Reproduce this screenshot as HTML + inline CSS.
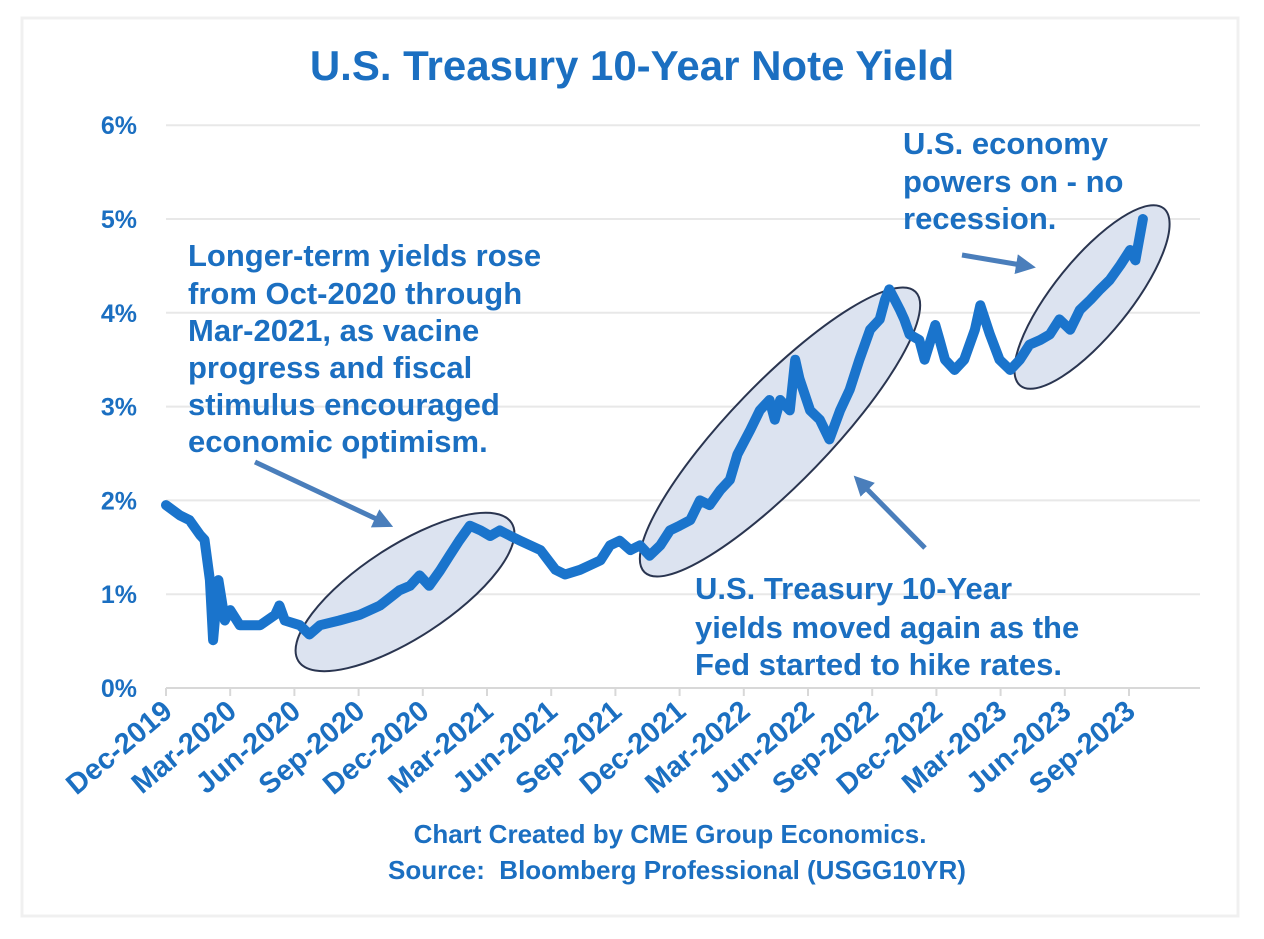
<!DOCTYPE html>
<html><head><meta charset="utf-8"><style>
html,body{margin:0;padding:0;background:#fff;}
body{width:1264px;height:934px;overflow:hidden;font-family:"Liberation Sans",Arial,sans-serif;}
</style></head><body>
<svg id="chart" width="1264" height="934" viewBox="0 0 1264 934" xmlns="http://www.w3.org/2000/svg" font-family="Liberation Sans, Arial, sans-serif">
<rect x="22" y="18" width="1216" height="898" fill="#fff" stroke="#f0f0f0" stroke-width="3"/>
<text x="632" y="80" text-anchor="middle" font-size="42" font-weight="bold" fill="#1b6fc1">U.S. Treasury 10-Year Note Yield</text>
<g id="grid"></g>
<g id="yticks"></g>
<g id="xticks"></g>
<g id="ellipses">
<ellipse cx="405" cy="592" rx="127" ry="46" transform="rotate(-33 405 592)" fill="#dce3f0" stroke="#2a3550" stroke-width="2"/>
<ellipse cx="780" cy="432" rx="195" ry="50" transform="rotate(-46 780 432)" fill="#dce3f0" stroke="#2a3550" stroke-width="2"/>
<ellipse cx="1092" cy="297" rx="114" ry="38" transform="rotate(-51 1092 297)" fill="#dce3f0" stroke="#2a3550" stroke-width="2"/>
</g>
<path id="line" fill="none" stroke="#1a74cc" stroke-width="10" stroke-linejoin="round" stroke-linecap="round"/>
<defs><marker id="ah" markerWidth="4" markerHeight="4" refX="2.2" refY="2" orient="auto"><path d="M0,0 L4,2 L0,4 z" fill="#4a7ebb"/></marker></defs>
<g stroke="#4a7ebb" stroke-width="5" marker-end="url(#ah)">
<line x1="255" y1="462" x2="385" y2="523"/>
<line x1="925" y1="548" x2="860" y2="482"/>
<line x1="962" y1="255" x2="1027" y2="266"/>
</g>
<g font-size="31" font-weight="bold" fill="#1b6fc1">
<text>
<tspan x="188" y="266">Longer-term yields rose</tspan>
<tspan x="188" y="304">from Oct-2020 through</tspan>
<tspan x="188" y="341">Mar-2021, as vacine</tspan>
<tspan x="188" y="378">progress and fiscal</tspan>
<tspan x="188" y="415">stimulus encouraged</tspan>
<tspan x="188" y="452">economic optimism.</tspan>
</text>
<text>
<tspan x="695" y="599">U.S. Treasury 10-Year</tspan>
<tspan x="695" y="638">yields moved again as the</tspan>
<tspan x="695" y="675">Fed started to hike rates.</tspan>
</text>
<text>
<tspan x="903" y="154">U.S. economy</tspan>
<tspan x="903" y="192">powers on - no</tspan>
<tspan x="903" y="229">recession.</tspan>
</text>
</g>
<g font-size="26" font-weight="bold" fill="#1b6fc1" text-anchor="middle">
<text x="670" y="843">Chart Created by CME Group Economics.</text>
<text x="677" y="879" xml:space="preserve">Source:  Bloomberg Professional (USGG10YR)</text>
</g>
</svg>
<script>
const yTicks = [0,1,2,3,4,5,6];
const xLabels = ["Dec-2019","Mar-2020","Jun-2020","Sep-2020","Dec-2020","Mar-2021","Jun-2021","Sep-2021","Dec-2021","Mar-2022","Jun-2022","Sep-2022","Dec-2022","Mar-2023","Jun-2023","Sep-2023"];
const months = [0,0.65,1.1,1.6,1.8,2.05,2.2,2.45,2.6,2.75,3.0,3.45,4.4,5.1,5.3,5.55,6.25,6.7,7.2,8.1,9.05,10.0,10.9,11.4,11.85,12.3,12.8,13.25,13.7,14.2,14.7,15.15,15.6,16.1,16.55,17.5,18.2,18.65,19.35,20.3,20.75,21.2,21.7,22.15,22.6,23.1,23.55,24.0,24.5,24.95,25.4,25.9,26.35,26.7,27.3,27.75,28.2,28.45,28.7,29.15,29.4,29.6,30.1,30.55,31.0,31.5,31.95,32.4,32.9,33.35,33.6,33.8,34.05,34.3,34.5,34.75,35.2,35.45,35.95,36.15,36.4,36.85,37.3,37.8,38.05,38.5,38.95,39.45,39.9,40.35,40.85,41.3,41.75,42.25,42.7,43.2,43.65,44.1,44.6,45.05,45.3,45.65];
const yields = [1.95,1.84,1.79,1.63,1.58,1.15,0.51,1.15,0.94,0.72,0.83,0.67,0.67,0.78,0.88,0.72,0.67,0.57,0.67,0.72,0.78,0.88,1.04,1.09,1.20,1.09,1.25,1.41,1.57,1.73,1.68,1.62,1.68,1.62,1.57,1.47,1.26,1.21,1.26,1.36,1.52,1.57,1.47,1.52,1.41,1.52,1.68,1.73,1.79,2.0,1.95,2.11,2.22,2.49,2.75,2.96,3.07,2.86,3.07,2.96,3.5,3.3,2.96,2.86,2.65,2.96,3.18,3.5,3.82,3.93,4.14,4.25,4.14,4.03,3.93,3.77,3.71,3.5,3.87,3.71,3.5,3.39,3.5,3.82,4.08,3.77,3.5,3.39,3.5,3.66,3.71,3.77,3.93,3.82,4.03,4.14,4.25,4.35,4.51,4.67,4.56,5.0];
const NS = "http://www.w3.org/2000/svg";
const x0 = 166, pxPerMonth = 21.4, yZero = 688, pxPerPct = 93.8, xRight = 1200;
function xs(m){ return x0 + m*pxPerMonth; }
function ys(v){ return yZero - v*pxPerPct; }
const grid = document.getElementById('grid');
const yt = document.getElementById('yticks');
yTicks.forEach(t => {
  const l = document.createElementNS(NS,'line');
  
  
  l.setAttribute('x1',x0); l.setAttribute('x2',xRight);
  l.setAttribute('y1',ys(t)); l.setAttribute('y2',ys(t));
  l.setAttribute('stroke', t===0 ? '#d8d8d8' : '#e8e8e8'); l.setAttribute('stroke-width','2');
  grid.appendChild(l);
  const tx = document.createElementNS(NS,'text');
  
  
  tx.setAttribute('x',137); tx.setAttribute('y',ys(t)+9);
  tx.setAttribute('text-anchor','end'); tx.setAttribute('font-size','25'); tx.setAttribute('font-weight','bold'); tx.setAttribute('fill','#1b6fc1');
  tx.textContent = t + '%';
  yt.appendChild(tx);
});
const xt = document.getElementById('xticks');
xLabels.forEach((lab,i) => {
  const x = xs(i*3);
  const tk = document.createElementNS(NS,'line');
  
  
  tk.setAttribute('x1',x); tk.setAttribute('x2',x); tk.setAttribute('y1',yZero); tk.setAttribute('y2',yZero+8);
  tk.setAttribute('stroke','#d8d8d8'); tk.setAttribute('stroke-width','2');
  xt.appendChild(tk);
  const tx = document.createElementNS(NS,'text');
  
  
  tx.setAttribute('text-anchor','end'); tx.setAttribute('font-size','29'); tx.setAttribute('font-weight','bold'); tx.setAttribute('fill','#1b6fc1');
  tx.setAttribute('transform','translate('+(x+8)+','+(yZero+26)+') rotate(-40)');
  tx.textContent = lab;
  xt.appendChild(tx);
});
let d = '';
months.forEach((m,i) => { d += (i ? 'L' : 'M') + xs(m).toFixed(1) + ',' + ys(yields[i]).toFixed(1); });
document.getElementById('line').setAttribute('d', d);
</script>
</body></html>
